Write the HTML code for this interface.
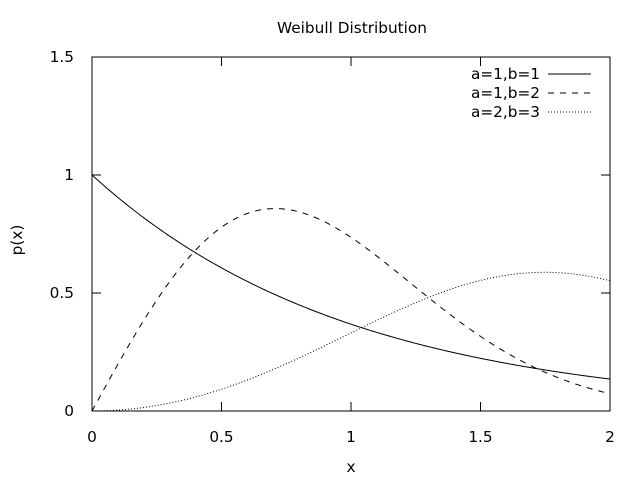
<!DOCTYPE html>
<html><head><meta charset="utf-8"><style>
html,body{margin:0;padding:0;background:#fff;}
svg{display:block;font-family:"DejaVu Sans","Liberation Sans",sans-serif;font-size:15.3px;}
</style></head><body>
<svg id="s" width="640" height="480" xmlns="http://www.w3.org/2000/svg">
<rect x="92" y="57" width="518" height="354" fill="none" stroke="#000" stroke-width="1"/>
<g stroke="#000" stroke-width="1">
<line x1="92" y1="411" x2="101" y2="411"/><line x1="610" y1="411" x2="601" y2="411"/>
<line x1="92" y1="293" x2="101" y2="293"/><line x1="610" y1="293" x2="601" y2="293"/>
<line x1="92" y1="175" x2="101" y2="175"/><line x1="610" y1="175" x2="601" y2="175"/>
<line x1="221.5" y1="411" x2="221.5" y2="402"/><line x1="221.5" y1="57" x2="221.5" y2="66"/>
<line x1="351" y1="411" x2="351" y2="402"/><line x1="351" y1="57" x2="351" y2="66"/>
<line x1="480.5" y1="411" x2="480.5" y2="402"/><line x1="480.5" y1="57" x2="480.5" y2="66"/>
</g>
<g text-anchor="end">
<text x="74" y="416">0</text><text x="74" y="298">0.5</text><text x="74" y="180">1</text><text x="74" y="62">1.5</text>
</g>
<g text-anchor="middle">
<text x="92" y="442">0</text><text x="221.5" y="442">0.5</text><text x="351" y="442">1</text><text x="480.5" y="442">1.5</text><text x="610" y="442">2</text>
<text x="351" y="472">x</text>
<text x="352" y="33">Weibull Distribution</text>
<text transform="translate(22,240) rotate(-90)">p(x)</text>
</g>
<g text-anchor="end">
<text x="540" y="79">a=1,b=1</text><text x="540" y="98">a=1,b=2</text><text x="540" y="117">a=2,b=3</text>
</g>
<g stroke="#000" stroke-width="1" fill="none">
<line x1="548" y1="74" x2="591" y2="74"/>
<line x1="548" y1="93" x2="591" y2="93" stroke-dasharray="6,6"/>
<line x1="548" y1="112" x2="591" y2="112" stroke-dasharray="1,2"/>
<path id="p1"/><path id="p2" stroke-dasharray="6,6"/><path id="p3" stroke-dasharray="1,2"/>
</g>
</svg>
<script>
function w(a,b,x){return (b/a)*Math.pow(x/a,b-1)*Math.exp(-Math.pow(x/a,b));}
function mk(a,b){var d="";for(var i=0;i<=400;i++){var x=2*i/400;var y=w(a,b,x);d+=(i?"L":"M")+(92+x*259).toFixed(2)+" "+(411-y*236).toFixed(2);}return d;}
document.getElementById("p1").setAttribute("d",mk(1,1));
document.getElementById("p2").setAttribute("d",mk(1,2));
document.getElementById("p3").setAttribute("d",mk(2,3));
</script>
</body></html>
